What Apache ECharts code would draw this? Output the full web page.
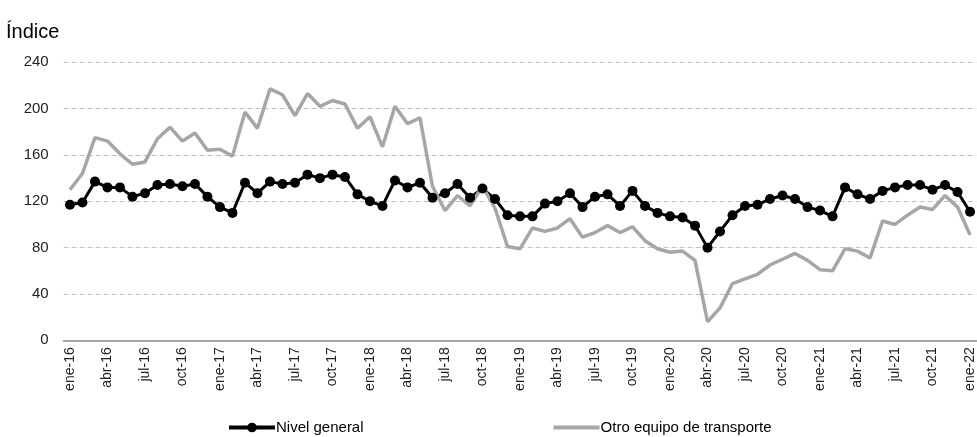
<!DOCTYPE html>
<html>
<head>
<meta charset="utf-8">
<script src="https://cdn.jsdelivr.net/npm/echarts@6/dist/echarts.min.js"></script>
<style>html,body{margin:0;padding:0;background:#fff}#c{width:977px;height:437px}</style>
</head>
<body>
<div id="c"></div>
<script>
const months = ['ene','feb','mar','abr','may','jun','jul','ago','sep','oct','nov','dic'];
const categories = [];
for (let y = 16; y <= 22; y++) {
  for (let m = 0; m < 12; m++) {
    if (y === 22 && m > 0) break;
    categories.push(months[m] + '-' + y);
  }
}
const nivelGeneral = [
  117,119,137,132,132,124,127,134,135,133,135,124,
  115,110,136,127,137,135,136,143,140,143,141,126,
  120,116,138,132,136,123,127,135,123,131,122,108,
  107,107,118,120,127,115,124,126,116,129,116,110,
  107,106,99,80,94,108,116,117,122,125,122,115,
  112,107,132,126,122,129,132,134,134,130,134,128,
  111
];
const otroEquipo = [
  130,144,175,172,161,152,154,174,184,172,179,164,
  165,159,197,183,217,212,194,213,202,207,204,183,
  193,167,202,187,192,133,112,125,116,133,114,81,
  79,97,94,97,105,89,93,99,93,98,86,79,
  76,77,69,16,28,49,53,57,65,70,75,69,
  61,60,79,77,71,103,100,108,115,113,125,115,
  91
];
const yTicks = { min: 0, max: 240, interval: 40 };

const chart = echarts.init(document.getElementById('c'), null, { renderer: 'canvas' });
const font = '"Liberation Sans", Arial, sans-serif';
chart.setOption({
  animation: false,
  backgroundColor: '#fff',
  title: {
    text: 'Índice', left: 1, top: 17,
    textStyle: { fontFamily: font, fontSize: 20, fontWeight: 'normal', color: '#000' }
  },
  legend: {
    left: 222, top: 415, itemWidth: 46, itemHeight: 12, itemGap: 188,
    textStyle: { fontFamily: font, fontSize: 15, color: '#000', padding: [0, 0, 0, -4] },
    data: [
      { name: 'Nivel general', lineStyle: { width: 4, color: '#000' }, itemStyle: { color: '#000' } },
      { name: 'Otro equipo de transporte', lineStyle: { width: 4, color: '#a6a6a6' },
        itemStyle: { color: 'rgba(0,0,0,0)', borderColor: 'rgba(0,0,0,0)' } }
    ]
  },
  grid: { left: 63.7, right: -4.4, top: 62.3, bottom: 96.7, containLabel: false },
  xAxis: {
    type: 'category', data: categories, boundaryGap: true,
    axisLine: { lineStyle: { color: '#a6a6a6', width: 2 } },
    axisTick: { interval: 0, length: 5, lineStyle: { color: '#a6a6a6', width: 1 } },
    axisLabel: { interval: 2, rotate: 90, margin: 7, fontFamily: font, fontSize: 14, color: '#222' },
    splitLine: { show: false }
  },
  yAxis: {
    type: 'value', min: yTicks.min, max: yTicks.max, interval: yTicks.interval,
    axisLine: { show: false }, axisTick: { show: false },
    axisLabel: { margin: 15, fontFamily: font, fontSize: 15, color: '#222' },
    splitLine: { lineStyle: { color: '#c0c0c0', type: [5, 3], width: 1 } }
  },
  series: [
    {
      name: 'Nivel general', type: 'line', data: nivelGeneral,
      symbol: 'circle', symbolSize: 10, showAllSymbol: true,
      lineStyle: { color: '#000', width: 3 },
      itemStyle: { color: '#000' }
    },
    {
      name: 'Otro equipo de transporte', type: 'line', data: otroEquipo,
      symbol: 'none',
      lineStyle: { color: '#a6a6a6', width: 3.5 },
      itemStyle: { color: '#a6a6a6' }
    }
  ]
});
</script>
</body>
</html>
